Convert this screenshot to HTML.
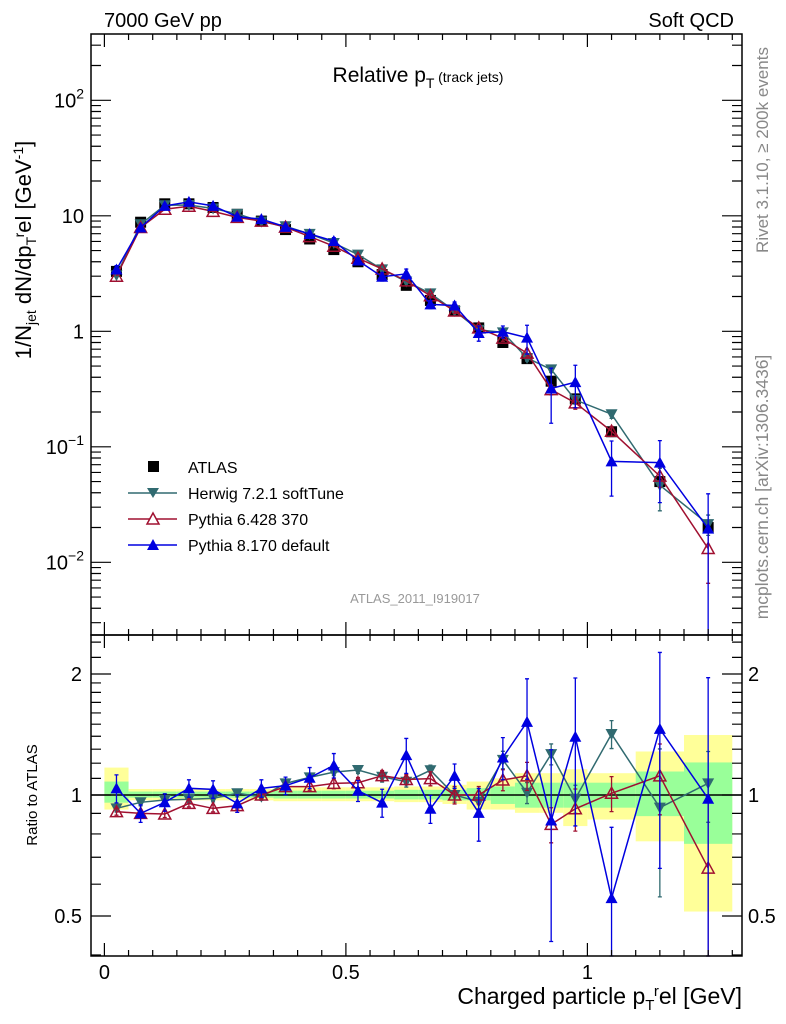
<!DOCTYPE html>
<html><head><meta charset="utf-8">
<style>
html,body{margin:0;padding:0;background:#fff;}
svg{display:block;font-family:"Liberation Sans",Arial,sans-serif;}
</style></head>
<body>
<svg id="chart" width="786" height="1024" viewBox="0 0 786 1024" xmlns="http://www.w3.org/2000/svg">
<text x="104" y="27" font-size="20">7000 GeV pp</text>
<text x="734" y="27" font-size="20" text-anchor="end">Soft QCD</text>
<text x="418" y="82" font-size="21" text-anchor="middle">Relative p<tspan font-size="14" dy="6">T</tspan><tspan font-size="14" dy="-6"> (track jets)</tspan></text>
<text x="415" y="603" font-size="13" fill="#999" text-anchor="middle">ATLAS_2011_I919017</text>
<text transform="translate(768,150) rotate(-90)" font-size="17" fill="#888" text-anchor="middle">Rivet 3.1.10, ≥ 200k events</text>
<text transform="translate(768,487) rotate(-90)" font-size="17.5" fill="#888" text-anchor="middle">mcplots.cern.ch [arXiv:1306.3436]</text>
<text transform="translate(31,250) rotate(-90)" font-size="22" text-anchor="middle">1/N<tspan font-size="14" dy="5">jet</tspan><tspan dy="-5"> dN/dp</tspan><tspan font-size="14" dy="5">T</tspan><tspan font-size="14" dy="-12">r</tspan><tspan dy="7">el [GeV</tspan><tspan font-size="14" dy="-8">-1</tspan><tspan dy="8">]</tspan></text>
<text transform="translate(37,795) rotate(-90)" font-size="15" text-anchor="middle">Ratio to ATLAS</text>
<text x="742" y="1004" font-size="23" text-anchor="end">Charged particle p<tspan font-size="15" dy="6">T</tspan><tspan font-size="15" dy="-14">r</tspan><tspan dy="8">el [GeV]</tspan></text>
<g id="bands"></g>
<g id="marks"></g>
<g id="axes"></g>
<g>
  <rect x="148" y="461" width="11" height="11" fill="#000"/>
  <text x="188" y="473" font-size="16">ATLAS</text>
  <line x1="128" y1="493" x2="177" y2="493" stroke="#306a70" stroke-width="1.5"/>
  <path d="M147,488 L159,488 L153,498 Z" fill="#306a70"/>
  <text x="188" y="499" font-size="16">Herwig 7.2.1 softTune</text>
  <line x1="128" y1="519" x2="177" y2="519" stroke="#a01030" stroke-width="1.5"/>
  <path d="M153,513 L159,524 L147,524 Z" fill="#fff" stroke="#a01030" stroke-width="1.5"/>
  <text x="188" y="525" font-size="16">Pythia 6.428 370</text>
  <line x1="128" y1="545" x2="177" y2="545" stroke="#0000e0" stroke-width="1.5"/>
  <path d="M153,539 L159,550 L147,550 Z" fill="#0000e0"/>
  <text x="188" y="551" font-size="16">Pythia 8.170 default</text>
</g>
</svg>
<script>
const binLo = [0,0.05,0.1,0.15,0.2,0.25,0.3,0.35,0.4,0.45,0.5,0.55,0.6,0.65,0.7,0.75,0.8,0.85,0.9,0.95,1.0,1.1,1.2];
const binHi = [0.05,0.1,0.15,0.2,0.25,0.3,0.35,0.4,0.45,0.5,0.55,0.6,0.65,0.7,0.75,0.8,0.85,0.9,0.95,1.0,1.1,1.2,1.3];
const atlas = [3.3,8.8,12.7,12.7,11.8,10.3,9.0,7.6,6.3,5.1,4.0,3.1,2.5,1.85,1.5,1.07,0.8,0.58,0.37,0.26,0.135,0.05,0.02];
const herwigRatio = [0.926,0.959,0.972,0.976,0.981,1.01,0.99,1.069,1.106,1.14,1.154,1.11,1.079,1.152,1.0,0.962,1.223,1.013,1.264,0.979,1.418,0.93,1.069];
const pythia6Ratio = [0.909,0.90,0.897,0.953,0.926,0.941,1.0,1.049,1.049,1.069,1.073,1.117,1.093,1.098,1.0,1.0,1.09,1.116,0.845,0.924,1.01,1.116,0.658];
const pythia8Ratio = [1.039,0.90,0.959,1.039,1.033,0.953,1.039,1.055,1.104,1.185,1.025,0.957,1.257,0.924,1.116,0.903,1.24,1.52,0.864,1.396,0.554,1.46,0.979];
const herwigErr = [0.02,0.02,0.02,0.02,0.02,0.02,0.02,0.02,0.02,0.02,0.02,0.03,0.03,0.03,0.04,0.04,0.05,0.06,0.06,0.08,0.08,0.4,0.2];
const pythia6Err = [0.02,0.02,0.02,0.02,0.02,0.02,0.02,0.02,0.02,0.03,0.03,0.03,0.03,0.04,0.05,0.05,0.06,0.08,0.1,0.12,0.1,0.2,0.5];
const pythia8Err = [0.08,0.05,0.05,0.05,0.05,0.05,0.05,0.05,0.06,0.07,0.06,0.08,0.1,0.08,0.07,0.15,0.12,0.28,0.5,0.4,0.5,0.55,1.0];
const totUp = [1.17,1.035,1.035,1.035,1.035,1.035,1.035,1.045,1.045,1.045,1.045,1.045,1.05,1.05,1.06,1.08,1.10,1.133,1.133,1.159,1.133,1.283,1.41];
const totDn = [0.92,0.97,0.97,0.97,0.97,0.97,0.97,0.965,0.965,0.965,0.965,0.965,0.96,0.96,0.95,0.92,0.92,0.903,0.903,0.837,0.869,0.767,0.513];
const statUp = [1.08,1.02,1.02,1.02,1.02,1.02,1.02,1.025,1.025,1.025,1.025,1.025,1.03,1.03,1.03,1.04,1.05,1.073,1.073,1.073,1.073,1.144,1.205];
const statDn = [0.957,0.985,0.985,0.985,0.985,0.985,0.985,0.98,0.98,0.98,0.98,0.98,0.975,0.975,0.97,0.97,0.95,0.93,0.93,0.93,0.93,0.886,0.756];
const xTicks = [0,0.5,1];
const xTickLabels = ["0","0.5","1"];
const ratioTicks = [0.5,1,2];
const ratioTickLabels = ["0.5","1","2"];

const NS="http://www.w3.org/2000/svg";
const L=91,R=742,T=34,MB=635,RB=956;
const X0=104.4,XS=483;
const sx=v=>X0+v*XS;
const sy=v=>331.3-Math.log10(v)*115.5;
const sr=v=>795-Math.log10(v)*402;
function mk(tag,attrs,parent){const e=document.createElementNS(NS,tag);for(const k in attrs)e.setAttribute(k,attrs[k]);parent.appendChild(e);return e;}
const bands=document.getElementById('bands'),marks=document.getElementById('marks'),axes=document.getElementById('axes');

const clipR=v=>Math.min(Math.max(v,635),956);
for(let i=0;i<binLo.length;i++){
  const y=mk('rect',{x:sx(binLo[i]),y:clipR(sr(totUp[i])),width:sx(binHi[i])-sx(binLo[i]),height:clipR(sr(totDn[i]))-clipR(sr(totUp[i])),fill:'#ffff99'},bands);
  
  
  const g=mk('rect',{x:sx(binLo[i]),y:sr(statUp[i]),width:sx(binHi[i])-sx(binLo[i]),height:sr(statDn[i])-sr(statUp[i]),fill:'#99ff99'},bands);
  
  
}
const one=mk('line',{x1:L,x2:R,y1:sr(1),y2:sr(1),stroke:'#000','stroke-width':1.5},bands);



const cx=i=>sx((binLo[i]+binHi[i])/2);
function marker(type,x,y,col,parent){
  let e;
  if(type==='down') e=mk('path',{d:`M${x-6},${y-5} L${x+6},${y-5} L${x},${y+6} Z`,fill:col},parent);
  else if(type==='open') e=mk('path',{d:`M${x},${y-6} L${x+6},${y+5} L${x-6},${y+5} Z`,fill:'none',stroke:col,'stroke-width':1.5},parent);
  else if(type==='up') e=mk('path',{d:`M${x},${y-6} L${x+6},${y+5} L${x-6},${y+5} Z`,fill:col},parent);
  else e=mk('rect',{x:x-5.5,y:y-5.5,width:11,height:11,fill:col},parent);
  return e;
}
function clipY(y,top,bot){return Math.min(Math.max(y,top),bot);}
function series(name,ratios,errs,col,type){
  const gm=mk('g',{},marks);
  
  
  let pts=[],rpts=[];
  for(let i=0;i<ratios.length;i++){
    const v=atlas[i]*ratios[i];
    pts.push([cx(i),sy(v)]);
    rpts.push([cx(i),sr(ratios[i])]);
  }
  const pl=mk('polyline',{points:pts.map(p=>p.join(',')).join(' '),fill:'none',stroke:col,'stroke-width':1.5},gm);
  
  
  const rl=mk('polyline',{points:rpts.map(p=>p.join(',')).join(' '),fill:'none',stroke:col,'stroke-width':1.5},gm);
  
  
  for(let i=0;i<ratios.length;i++){
    const v=atlas[i]*ratios[i],f=errs[i];
    const lo=Math.max(v*(1-f),1e-4),hi=v*(1+f);
    const y1=clipY(sy(hi),T,MB),y2=clipY(sy(lo),T,MB);
    if(y2-y1>4){
      const eb=mk('path',{d:`M${cx(i)},${y1} V${y2} M${cx(i)-2},${y1} h4 M${cx(i)-2},${y2} h4`,stroke:col,'stroke-width':1.3,fill:'none'},gm);
      
      
    }
    const r=ratios[i];
    const ry1=clipY(sr(r*(1+f)),635,RB),ry2=clipY(sr(Math.max(r*(1-f),0.01)),635,RB);
    if(ry2-ry1>4){
      const reb=mk('path',{d:`M${cx(i)},${ry1} V${ry2} M${cx(i)-2},${ry1} h4 M${cx(i)-2},${ry2} h4`,stroke:col,'stroke-width':1.3,fill:'none'},gm);
      
      
    }
    const m=marker(type,cx(i),sy(v),col,gm);
    
    
    const rm=marker(type,cx(i),sr(r),col,gm);
    
    
  }
}
(function(){
  const g=mk('g',{},marks);
  
  
  for(let i=0;i<atlas.length;i++){
    const m=marker('sq',cx(i),sy(atlas[i]),'#000',g);
    
    
  }
})();
series('herwig',herwigRatio,herwigErr,'#306a70','down');
series('pythia6',pythia6Ratio,pythia6Err,'#a01030','open');
series('pythia8',pythia8Ratio,pythia8Err,'#0000e0','up');

for(const [t,b,nm] of [[T,MB,'main-frame'],[MB,RB,'ratio-frame']]){
  const f=mk('rect',{x:L,y:t,width:R-L,height:b-t,fill:'none',stroke:'#000','stroke-width':1.5},axes);
  
  
}
let path='';
for(let k=0;k<=26;k++){
  const v=k*0.05,x=sx(v);if(x>R)break;
  const major=(k%10===0),len=major?13:6;
  path+=`M${x},${T} v${len} M${x},${MB} v${-len} M${x},${MB} v${len} M${x},${RB} v${-len} `;
}
for(let d=-3;d<=2;d++){
  for(let m=1;m<=9;m++){
    const v=m*Math.pow(10,d),y=sy(v);
    if(y<T||y>MB)continue;
    const len=m===1?20:10;
    path+=`M${L},${y} h${len} M${R},${y} h${-len} `;
  }
}
for(const v of [0.4,0.5,0.6,0.7,0.8,0.9,1,1.1,1.2,1.3,1.4,1.5,1.6,1.7,1.8,1.9,2,2.2,2.4]){
  const y=sr(v);if(y<635||y>RB)continue;
  const len=(v===0.5||v===1||v===2)?20:10;
  path+=`M${L},${y} h${len} M${R},${y} h${-len} `;
}
const tk=mk('path',{d:path,stroke:'#000','stroke-width':1.2,fill:'none'},axes);


xTicks.forEach((v,i)=>{
  const t=mk('text',{x:sx(v),y:979,'font-size':20,'text-anchor':'middle'},axes);
  t.textContent=xTickLabels[i];
  
  
});
ratioTicks.forEach((v,i)=>{
  for(const [x,a] of [[82,'end'],[748,'start']]){
    const t=mk('text',{x:x,y:sr(v)+7,'font-size':20,'text-anchor':a},axes);
    t.textContent=ratioTickLabels[i];
    
    
  }
});
const yExp=[2,1,0,-1,-2];
yExp.forEach(e=>{
  const y=sy(Math.pow(10,e));
  const t=mk('text',{x:84,y:y+7,'font-size':20,'text-anchor':'end'},axes);
  
  
  if(e===1) t.textContent='10';
  else if(e===0) t.textContent='1';
  else {
    t.textContent='10';
    const s=document.createElementNS(NS,'tspan');
    s.setAttribute('font-size','14');s.setAttribute('dy','-9');
    s.textContent=e===2?'2':'\u2212'+(-e);
    t.appendChild(s);
  }
});
</script>
</body></html>
